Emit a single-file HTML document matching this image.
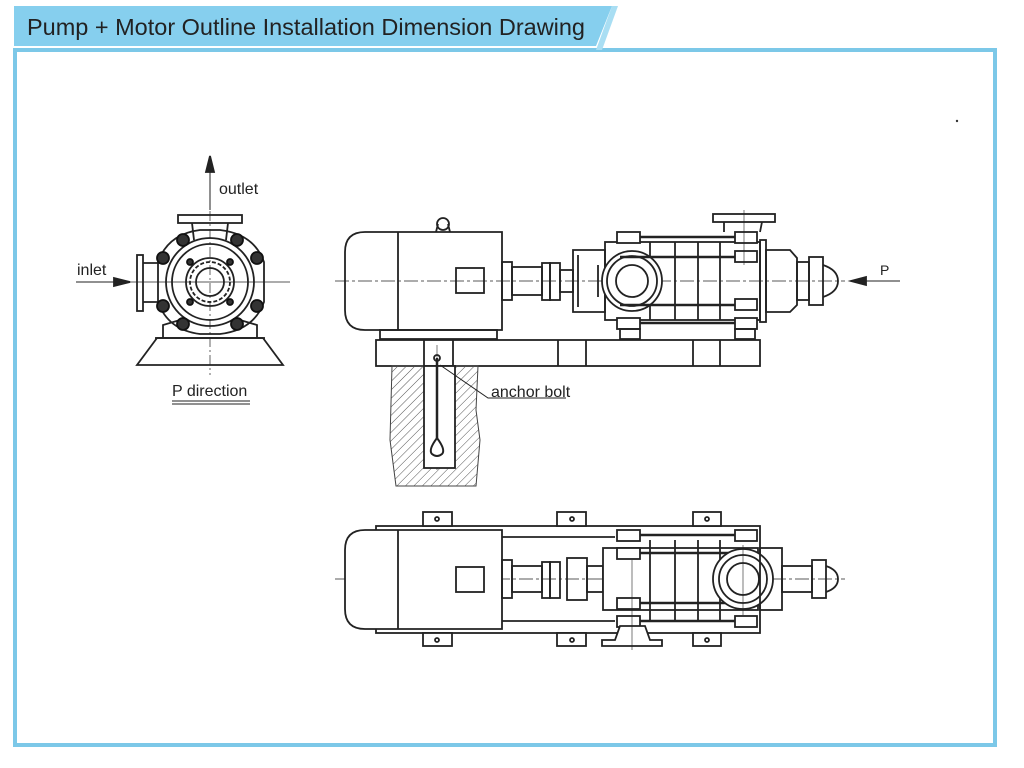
<!DOCTYPE html>
<html><head><meta charset="utf-8"><style>
html,body{margin:0;padding:0;background:#fff;}
svg{display:block;}
text{font-family:"Liberation Sans",sans-serif;fill:#222;}
</style></head><body>
<svg width="1024" height="768" viewBox="0 0 1024 768" xmlns="http://www.w3.org/2000/svg">
<defs>
<pattern id="hatch" width="6" height="6" patternUnits="userSpaceOnUse" patternTransform="rotate(45)">
<line x1="0" y1="0" x2="0" y2="6" stroke="#555" stroke-width="1"/>
</pattern>
</defs>
<rect width="1024" height="768" fill="#fff"/>
<!-- frame -->
<rect x="15" y="50" width="980" height="695" fill="none" stroke="#7cc8e8" stroke-width="4"/>
<polygon points="14,6 612,6 596,46 14,46" fill="#86cfee"/>
<polygon points="612,6 618,6 602,50 596,50" fill="#a9def3"/>
<text x="27" y="35" font-size="23" fill="#111" textLength="558" lengthAdjust="spacingAndGlyphs">Pump + Motor Outline Installation Dimension Drawing</text>
<circle cx="957" cy="121" r="1.2" fill="#333"/>

<g fill="none" stroke="#222" stroke-width="1.8">
<!-- ===== END VIEW ===== -->
<line x1="210" y1="175" x2="210" y2="375" stroke-width="0.7" stroke-dasharray="10,3,2,3"/>
<line x1="80" y1="282" x2="290" y2="282" stroke-width="0.7"/>
<line x1="210" y1="162" x2="210" y2="210" stroke-width="1"/>
<polygon points="210,156 206,172 214,172" fill="#222"/>
<line x1="76" y1="282" x2="120" y2="282" stroke-width="1"/>
<polygon points="130,282 114,278 114,286" fill="#222"/>
<rect x="178" y="215" width="64" height="8"/>
<path d="M192,223 L194,240 M228,223 L226,240"/>
<rect x="137" y="255" width="6" height="56"/>
<path d="M143,263 L160,263 M143,302 L160,302"/>
<path d="M157,338 L137,365 L283,365 L263,338 Z"/>
<line x1="155" y1="338" x2="265" y2="338"/>
<path d="M163,338 L163,325 L180,320 M257,338 L257,325 L240,320"/>
<path d="M158,262 Q168,234 200,230 L220,230 Q254,234 264,262 L264,302 Q254,330 220,334 L200,334 Q168,330 158,302 Z"/>
<circle cx="210" cy="282" r="44"/>
<circle cx="210" cy="282" r="38"/>
<circle cx="210" cy="282" r="24"/>
<circle cx="210" cy="282" r="20" stroke-dasharray="4,2"/>
<circle cx="210" cy="282" r="14"/>
<g fill="#333" stroke="#111">
<circle cx="183" cy="240" r="6"/><circle cx="237" cy="240" r="6"/>
<circle cx="163" cy="258" r="6"/><circle cx="257" cy="258" r="6"/>
<circle cx="163" cy="306" r="6"/><circle cx="257" cy="306" r="6"/>
<circle cx="183" cy="324" r="6"/><circle cx="237" cy="324" r="6"/>
<circle cx="190" cy="262" r="3"/><circle cx="230" cy="262" r="3"/>
<circle cx="190" cy="302" r="3"/><circle cx="230" cy="302" r="3"/>
</g>

<!-- ===== SIDE VIEW ===== -->
<line x1="335" y1="281" x2="845" y2="281" stroke-width="0.7" stroke-dasharray="14,3,3,3"/>
<line x1="437" y1="345" x2="437" y2="470" stroke-width="0.6"/>
<path d="M365,232 L502,232 L502,330 L365,330 Q345,330 345,310 L345,252 Q345,232 365,232 Z"/>
<line x1="398" y1="232" x2="398" y2="330"/>
<rect x="456" y="268" width="28" height="25"/>
<circle cx="443" cy="224" r="6"/>
<path d="M436,232 L438,224 M450,232 L448,224"/>
<rect x="380" y="330" width="117" height="9"/>
<rect x="502" y="262" width="10" height="38"/>
<rect x="512" y="267" width="30" height="28"/>
<rect x="542" y="263" width="8" height="37"/>
<rect x="550" y="263" width="10" height="37"/>
<rect x="560" y="270" width="13" height="22"/>
<path d="M573,250 L605,250 L605,312 L573,312 Z"/>
<path d="M578,255 L578,307 M598,265 L598,297"/>
<rect x="605" y="242" width="155" height="78"/>
<line x1="650" y1="242" x2="650" y2="320"/><line x1="675" y1="242" x2="675" y2="320"/>
<line x1="698" y1="242" x2="698" y2="320"/><line x1="720" y1="242" x2="720" y2="320"/>
<circle cx="632" cy="281" r="30" fill="#fff"/>
<circle cx="632" cy="281" r="25"/>
<circle cx="632" cy="281" r="16"/>
<g stroke-width="2.6"><line x1="620" y1="237" x2="757" y2="237"/><line x1="620" y1="257" x2="757" y2="257"/>
<line x1="620" y1="305" x2="757" y2="305"/><line x1="620" y1="323" x2="757" y2="323"/></g>
<g fill="#fff"><rect x="617" y="232" width="23" height="11"/><rect x="735" y="232" width="22" height="11"/>
<rect x="735" y="251" width="22" height="11"/><rect x="735" y="299" width="22" height="11"/>
<rect x="617" y="318" width="23" height="11"/><rect x="735" y="318" width="22" height="11"/></g>
<rect x="713" y="214" width="62" height="8"/>
<path d="M724,222 L724,232 M762,222 L760,232"/>
<line x1="744" y1="210" x2="744" y2="265" stroke-width="0.6"/>
<rect x="760" y="240" width="6" height="82"/>
<path d="M766,250 L790,250 L797,258 L797,305 L790,312 L766,312 Z"/>
<rect x="797" y="262" width="12" height="38"/>
<rect x="809" y="257" width="14" height="48"/>
<path d="M823,265 Q838,270 838,281 Q838,292 823,297"/>
<rect x="620" y="329" width="20" height="10"/><rect x="735" y="329" width="20" height="10"/>
<line x1="860" y1="281" x2="900" y2="281" stroke-width="1"/>
<polygon points="851,281 866,277 866,285" fill="#222"/>
<rect x="376" y="340" width="384" height="26"/>
<path d="M424,340 L424,366 M453,340 L453,366 M558,340 L558,366 M586,340 L586,366 M693,340 L693,366 M720,340 L720,366"/>
<path d="M392,366 L424,366 L424,468 L455,468 L455,366 L478,366 L476,410 L480,440 L476,486 L396,486 L390,440 Z" fill="url(#hatch)" stroke="#444" stroke-width="1"/>
<rect x="424" y="366" width="31" height="102" fill="#fff" stroke="#222"/>
<line x1="437" y1="358" x2="437" y2="438" stroke-width="2.5"/>
<circle cx="437" cy="358" r="3"/>
<path d="M437,438 Q428,450 432,454 Q437,458 442,454 Q446,450 437,438 Z" stroke-width="2"/>
<path d="M440,365 L488,398 L566,398" stroke-width="1"/>

<!-- ===== BOTTOM VIEW ===== -->
<line x1="335" y1="579" x2="845" y2="579" stroke-width="0.7" stroke-dasharray="14,3,3,3"/>
<rect x="376" y="526" width="384" height="107"/>
<g fill="#fff">
<rect x="423" y="512" width="29" height="14"/><rect x="557" y="512" width="29" height="14"/><rect x="693" y="512" width="28" height="14"/>
<rect x="423" y="633" width="29" height="13"/><rect x="557" y="633" width="29" height="13"/><rect x="693" y="633" width="28" height="13"/>
</g>
<circle cx="437" cy="519" r="2"/><circle cx="572" cy="519" r="2"/><circle cx="707" cy="519" r="2"/>
<circle cx="437" cy="640" r="2"/><circle cx="572" cy="640" r="2"/><circle cx="707" cy="640" r="2"/>
<path d="M365,530 L502,530 L502,629 L365,629 Q345,629 345,609 L345,550 Q345,530 365,530 Z" fill="#fff"/>
<line x1="398" y1="530" x2="398" y2="629"/>
<rect x="456" y="567" width="28" height="25"/>
<path d="M502,537 L615,537 M502,621 L615,621"/>
<rect x="502" y="560" width="10" height="38"/>
<rect x="512" y="566" width="30" height="26"/>
<rect x="542" y="562" width="8" height="36"/>
<rect x="550" y="562" width="10" height="36"/>
<rect x="567" y="558" width="20" height="42"/>
<rect x="587" y="566" width="16" height="26"/>
<rect x="603" y="548" width="155" height="62" fill="#fff"/>
<line x1="650" y1="540" x2="650" y2="620"/><line x1="675" y1="540" x2="675" y2="620"/>
<line x1="698" y1="540" x2="698" y2="620"/><line x1="720" y1="540" x2="720" y2="620"/>
<g stroke-width="2.6"><line x1="620" y1="535" x2="757" y2="535"/><line x1="620" y1="553" x2="757" y2="553"/>
<line x1="620" y1="603" x2="757" y2="603"/><line x1="620" y1="621" x2="757" y2="621"/></g>
<g fill="#fff"><rect x="617" y="530" width="23" height="11"/><rect x="735" y="530" width="22" height="11"/>
<rect x="617" y="548" width="23" height="11"/><rect x="617" y="598" width="23" height="11"/>
<rect x="617" y="616" width="23" height="11"/><rect x="735" y="616" width="22" height="11"/></g>
<circle cx="743" cy="579" r="30" fill="#fff"/>
<circle cx="743" cy="579" r="24"/>
<circle cx="743" cy="579" r="16"/>
<rect x="760" y="548" width="22" height="62"/>
<rect x="782" y="566" width="30" height="26"/>
<rect x="812" y="560" width="14" height="38"/>
<path d="M826,566 Q838,570 838,579 Q838,588 826,592"/>
<path d="M602,646 L662,646 L662,640 L650,640 L645,626 L620,626 L615,640 L602,640 Z" fill="#fff"/>
<line x1="632" y1="560" x2="632" y2="650" stroke-width="0.6"/>
<line x1="743" y1="545" x2="743" y2="615" stroke-width="0.6"/>
</g>

<text x="219" y="194" font-size="16">outlet</text>
<text x="77" y="275" font-size="16">inlet</text>
<text x="172" y="396" font-size="16">P direction</text>
<line x1="172" y1="401" x2="250" y2="401" stroke="#222" stroke-width="1"/>
<line x1="172" y1="404" x2="250" y2="404" stroke="#222" stroke-width="1"/>
<text x="491" y="397" font-size="16">anchor bolt</text>
<text x="880" y="275" font-size="14">P</text>
</svg>
</body></html>
